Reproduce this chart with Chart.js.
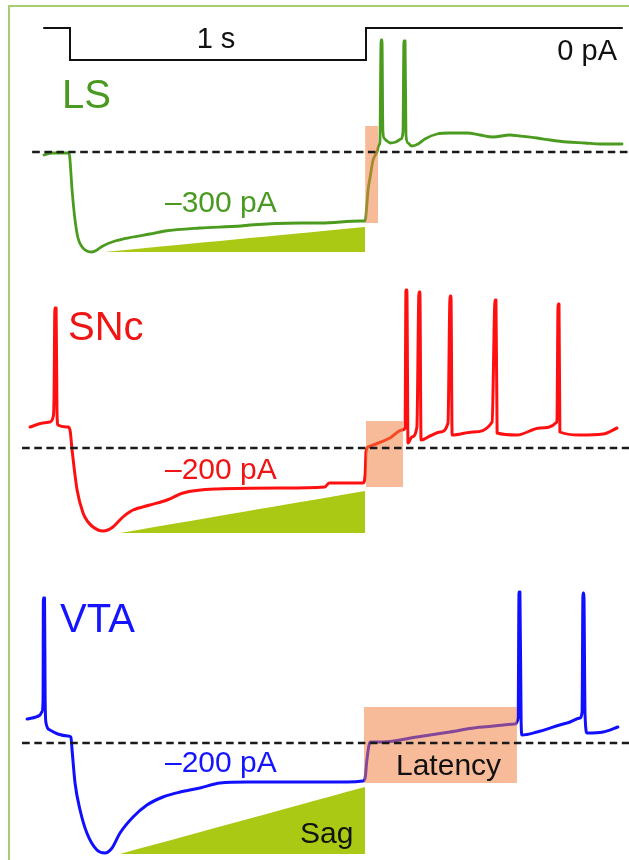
<!DOCTYPE html>
<html><head><meta charset="utf-8">
<script src="https://cdn.jsdelivr.net/npm/chart.js@4.4.0/dist/chart.umd.min.js"></script>
<style>
html,body{margin:0;padding:0;background:#fff;width:629px;height:860px;overflow:hidden;}
#wrap{position:relative;width:629px;height:860px;overflow:hidden;background:#fff;}
#frame{position:absolute;left:8px;top:5px;width:700px;height:900px;border-left:2px solid #a7cd72;border-top:2px solid #a7cd72;}
canvas{position:absolute;left:0;top:0;}
.t{position:absolute;font-family:'Liberation Sans',Arial,sans-serif;line-height:1;white-space:nowrap;}
</style></head>
<body><div id="wrap"><div id="frame"></div><canvas id="c" width="629" height="860"></canvas>
<div class="t" style="left:176px;width:80px;text-align:center;top:23.5px;font-size:29px;color:#111;">1 s</div>
<div class="t" style="right:12px;top:35.5px;font-size:29px;color:#111;">0 pA</div>
<div class="t" style="left:62px;top:74px;font-size:40px;color:#4a9a22;">LS</div>
<div class="t" style="left:165px;top:186.6px;font-size:30px;color:#4a9a22;">–300 pA</div>
<div class="t" style="left:68px;top:306px;font-size:40px;color:#f01414;">SNc</div>
<div class="t" style="left:165px;top:453.6px;font-size:30px;color:#f01414;">–200 pA</div>
<div class="t" style="left:60px;top:598px;font-size:40px;color:#1414ff;">VTA</div>
<div class="t" style="left:165px;top:746.6px;font-size:30px;color:#1414ff;">–200 pA</div>
<div class="t" style="left:396px;top:749.6px;font-size:30px;color:#111;">Latency</div>
<div class="t" style="left:300px;top:817.6px;font-size:30px;color:#111;">Sag</div>
</div>
<script>
// ---- data (time in ms from current-step onset, membrane potential in mV) ----
const stimTime = [-88, 0, 1000, 1865];
const stimCurrent = [0, -300, 0, 0];

const lsTime = [-88,-61,-27,-3,0,7,17,27,41,57,74,91,111,152,213,270,321,439,578,608,777,848,980,997,1000,1007,1014,1024,1037,1044,1047,1051,1054,1057,1061,1071,1081,1101,1118,1125,1128,1132,1135,1142,1155,1176,1199,1240,1284,1341,1385,1429,1486,1520,1578,1622,1679,1740,1791,1865];
const lsVm = [-61.5,-60.5,-60.5,-60.5,-64,-79,-94,-103,-107.5,-109.5,-110,-109,-107,-104.5,-102.5,-101,-99.5,-98,-97,-96.5,-95.5,-95.5,-94.5,-94.5,-91.5,-79,-72.5,-64,-60,-56.5,-55,-4,-4,-49,-53,-54.5,-55.5,-55,-53.5,-50,-4.5,-4.5,-51.5,-55.5,-57,-56,-53.5,-51,-50.5,-50.5,-51.5,-52.5,-51.5,-52,-53,-54,-55,-55.5,-56,-56];

const sncTime = [-135,-91,-68,-57,-54,-51,-47,-44,-41,-7,0,7,24,44,61,78,95,111,128,145,162,179,196,213,270,328,382,497,713,861,875,990,997,1000,1007,1024,1081,1122,1132,1135,1138,1142,1155,1172,1179,1182,1186,1216,1250,1277,1284,1287,1291,1361,1426,1436,1439,1443,1510,1588,1645,1649,1652,1655,1723,1801,1848];
const sncVm = [-49.5,-47.5,-47,-44.5,-36,10,10,-41,-48.5,-49.5,-51,-61,-81,-92.5,-97,-99.5,-101,-101.5,-101,-99.5,-97,-94.5,-92.5,-91,-88.5,-86,-82.5,-80.5,-80,-79.5,-77.5,-77.5,-73.5,-62,-59.5,-58.5,-55,-51,-50,19,19,-57.5,-54.5,-49.5,18,18,-56,-54,-52,-47.5,16,16,-53.5,-52,-47,14,14,-52.5,-53.5,-50,-47,12,12,-52,-53.5,-53,-50];

const vtaTime = [-145,-101,-95,-91,-90,-86,-84,-81,-68,-41,-7,3,7,17,34,57,91,118,142,169,213,260,314,372,439,507,598,709,821,936,990,997,1003,1014,1057,1172,1284,1395,1503,1514,1517,1520,1524,1527,1578,1679,1723,1730,1733,1736,1740,1747,1801,1851];
const vtaVm = [-48,-46,-44.5,-38.5,12.5,12.5,-38.5,-50,-53.5,-55.5,-56.5,-57,-63.5,-80,-93.5,-105,-113.5,-115,-112.5,-105,-97,-91,-87,-84.5,-82.5,-80,-79.5,-79.5,-79.5,-79.5,-79,-77.5,-68.5,-59.5,-59.5,-57,-54.5,-52,-50.5,-47.5,15.5,15.5,-48.5,-56,-54.5,-50,-47.5,-44.5,15,15,-46,-55,-54.5,-52];

const restVm = -60; // dashed reference level
const lsDashTime = [-128, 1900];
const sncDashTime = [-162, 1900];
const vtaDashTime = [-162, 1900];

// sag wedges: [start, end] time, [bottom, top] Vm
const lsSagTime = [115, 997];   const lsSagVm = [-110, -97.5];
const sncSagTime = [169, 997];  const sncSagVm = [-102.5, -81.5];
const vtaSagTime = [169, 997];  const vtaSagVm = [-115.5, -82];

// latency windows: [start, end] time, [bottom, top] Vm
const lsLatTime = [997, 1041];  const lsLatVm = [-95.5, -47];
const sncLatTime = [1000, 1125]; const sncLatVm = [-79.5, -46.5];
const vtaLatTime = [993, 1510]; const vtaLatVm = [-80, -42];

// ---- layout ----
const W = 629, H = 860;
const msPerPx = 1000 / 296, onsetPx = 70;
function yRange(refVal, refPx, unitsPerPx) {
  return { min: refVal - (H - refPx) * unitsPerPx, max: refVal + refPx * unitsPerPx };
}
const pts = (xs, ys) => xs.map((x, i) => ({ x, y: ys[i] }));

const GREEN = '#4b9b1f', RED = '#ff1010', BLUE = '#1010ff';
const SAG = '#a9c914', LAT = 'rgba(242,125,60,0.52)';

function trace(xs, ys, color, axis, w) {
  return { data: pts(xs, ys), borderColor: color, borderWidth: w, yAxisID: axis, fill: false, order: 2, cubicInterpolationMode: 'monotone' };
}
function dash(xs, axis) {
  return { data: pts(xs, xs.map(() => restVm)), borderColor: '#1a1a1a', borderWidth: 2.5, borderDash: [7.5, 4.5], borderCapStyle: 'butt', yAxisID: axis, fill: false, order: 0 };
}
function sag(ts, vs, axis) {
  return { data: [{ x: ts[0], y: vs[0] }, { x: ts[1], y: vs[1] }], borderColor: 'transparent', borderWidth: 0, backgroundColor: SAG, fill: { value: vs[0] }, yAxisID: axis, order: 3 };
}
function lat(ts, vs, axis) {
  return { data: [{ x: ts[0], y: vs[1] }, { x: ts[1], y: vs[1] }], borderColor: 'transparent', borderWidth: 0, backgroundColor: LAT, fill: { value: vs[0] }, yAxisID: axis, order: 1 };
}

const stim = trace(stimTime, stimCurrent, '#111', 'yStim', 2);
stim.stepped = 'before'; stim.borderJoinStyle = 'miter'; delete stim.cubicInterpolationMode;

new Chart(document.getElementById('c'), {
  type: 'line',
  data: {
    datasets: [
      dash(lsDashTime, 'yLS'), dash(sncDashTime, 'ySNc'), dash(vtaDashTime, 'yVTA'),
      lat(lsLatTime, lsLatVm, 'yLS'), lat(sncLatTime, sncLatVm, 'ySNc'), lat(vtaLatTime, vtaLatVm, 'yVTA'),
      stim,
      trace(lsTime, lsVm, GREEN, 'yLS', 2.8),
      trace(sncTime, sncVm, RED, 'ySNc', 3),
      trace(vtaTime, vtaVm, BLUE, 'yVTA', 3),
      sag(lsSagTime, lsSagVm, 'yLS'), sag(sncSagTime, sncSagVm, 'ySNc'), sag(vtaSagTime, vtaSagVm, 'yVTA')
    ]
  },
  options: {
    responsive: false, animation: false, devicePixelRatio: 1,
    layout: { padding: 0 },
    plugins: { legend: { display: false }, tooltip: { enabled: false }, title: { display: false } },
    elements: { point: { radius: 0, hoverRadius: 0 }, line: { tension: 0.4, borderJoinStyle: 'round', borderCapStyle: 'round' } },
    scales: {
      x: { type: 'linear', min: -onsetPx * msPerPx, max: (W - onsetPx) * msPerPx, display: false },
      yStim: Object.assign({ type: 'linear', display: false }, yRange(0, 28, 300 / 32)),
      yLS: Object.assign({ type: 'linear', display: false }, yRange(restVm, 152, 0.5)),
      ySNc: Object.assign({ type: 'linear', display: false }, yRange(restVm, 448, 0.5)),
      yVTA: Object.assign({ type: 'linear', display: false }, yRange(restVm, 743, 0.5))
    }
  }
});
</script>
</body></html>
